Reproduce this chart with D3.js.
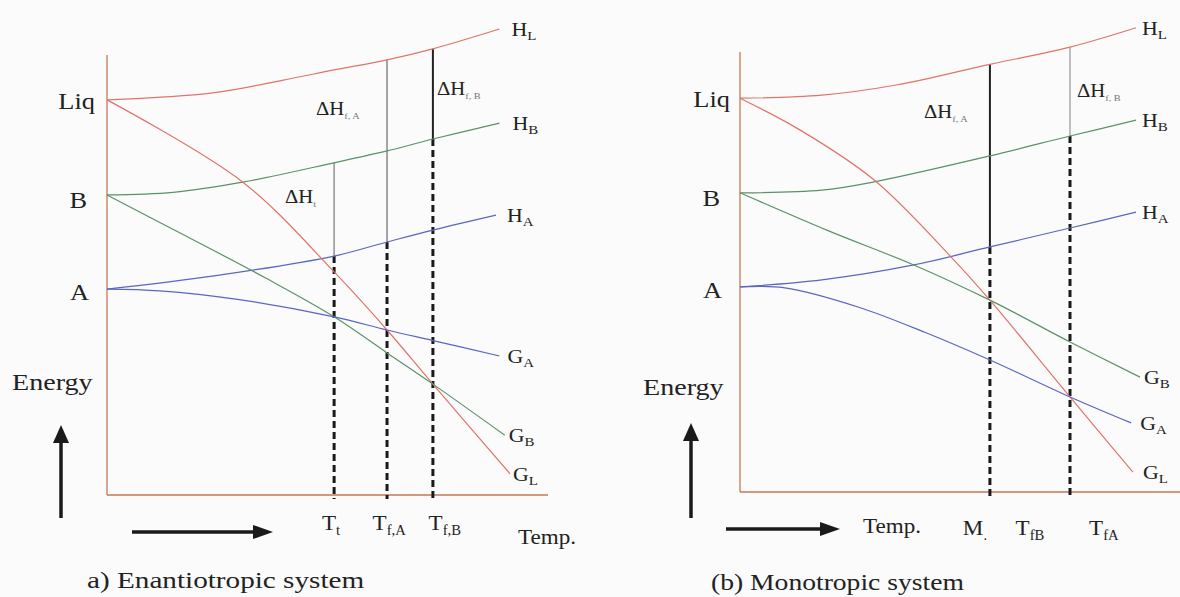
<!DOCTYPE html>
<html>
<head>
<meta charset="utf-8">
<script src="https://cdn.jsdelivr.net/npm/d3@7"></script>
<style>
  body { margin: 0; background: #fbfbfb; }
  svg { display: block; }
</style>
</head>
<body>
<svg id="chart" width="1180" height="597" font-family="'Liberation Serif', 'DejaVu Serif', serif"></svg>
<script>
// --- --- --- Data (temperature / energy, both on a 0-100 scale) --- --- ---
const levelNames = ["Liq", "B", "A"];
const curveNames = ["HL", "HB", "HA", "GL", "GB", "GA"];

// a) enantiotropic system
const aLevels = [89.8, 68.2, 46.8];
const aHL = [[0, 89.8], [24, 91.4], [40, 94.3], [51.5, 96.6], [63.5, 98.9], [73.9, 101.4], [89, 105.9]];
const aHB = [[0, 68.2], [15, 68.8], [30.8, 71.1], [51.5, 75.5], [63.5, 78.2], [73.9, 80.9], [89, 84.5]];
const aHA = [[0, 46.8], [24.3, 49.8], [51.5, 54.3], [63.5, 57.5], [73.9, 60.2], [88.2, 63.6]];
const aGL = [[0, 89.8], [30.8, 71.1], [51.5, 50.7], [63.5, 37.5], [73.9, 25.2], [91.4, 4.8]];
const aGB = [[0, 68.2], [18, 58.8], [36, 49.3], [51.5, 40.5], [63.5, 32.3], [73.9, 25.2], [90.2, 13.6]];
const aGA = [[0, 46.8], [12, 46.4], [30, 44.4], [51.5, 40.5], [63.5, 37.5], [73.9, 35.1], [89, 31.6]];
const aMarkT = [51.5, 63.5, 73.9];
const aTickLabels = [["T", "t"], ["T", "f,A"], ["T", "f,B"]];
const aTickAt = [50.8, 64, 76.6];
const aDeltaLabels = [["\u0394H", "t"], ["\u0394H", "f, A"], ["\u0394H", "f, B"]];

// b) monotropic system
const bLevels = [89.5, 68, 46.6];
const bHL = [[0, 89.5], [18.6, 90.2], [35.5, 92.5], [56.8, 97.2], [75, 101.1], [90, 105.5]];
const bHB = [[0, 68], [18.6, 68.6], [30.5, 70.5], [56.8, 76.4], [75, 80.9], [90, 84.5]];
const bHA = [[0, 46.6], [18.6, 48.2], [39.5, 51.6], [56.8, 55.7], [75, 60], [90, 63.6]];
const bGL = [[0, 89.5], [13.6, 82.3], [30.5, 70.9], [48, 53.4], [56.8, 43.6], [75, 21.6], [89.3, 4.5]];
const bGB = [[0, 68], [20, 59.4], [39.5, 51.6], [56.8, 43.6], [75, 34.1], [90.9, 26.1]];
const bGA = [[0, 46.6], [10.2, 46.4], [27, 42], [42, 36.3], [56.8, 30], [75, 21.6], [88.9, 15.7]];
const bMarkT = [56.8, 75];
const bTickLabels = [["M", "."], ["T", "fB"], ["T", "fA"]];
const bTickAt = [53.4, 65.9, 82.7];
const bDeltaLabels = [["\u0394H", "f, A"], ["\u0394H", "f, B"]];

const colors = { HL: "#e0746b", GL: "#e0746b", HB: "#5b9169", GB: "#5b9169", HA: "#5a66c2", GA: "#5a66c2", axis: "#c27a55" };
const labelText = { HL: ["H", "L"], HB: ["H", "B"], HA: ["H", "A"], GL: ["G", "L"], GB: ["G", "B"], GA: ["G", "A"] };

const svg = d3.select("#chart");
const FONT = "'Liberation Serif', 'DejaVu Serif', serif";

// text helper: the original lettering is a horizontally stretched Times face
function label(g, x, y, main, sub, size, subSize, opts = {}) {
  const t = g.append("text")
    .attr("transform", `translate(${x},${y}) scale(${opts.sx || 1.15},1)`)
    .attr("font-family", FONT)
    .attr("font-size", size)
    .attr("fill", "#222")
    .attr("text-anchor", opts.anchor || "start");
  t.append("tspan").text(main);
  if (sub) t.append("tspan")
    .attr("font-size", subSize)
    .attr("dy", opts.subDy != null ? opts.subDy : size * 0.22)
    .attr("fill", opts.subFill || "#222")
    .text(sub);
  return t;
}

function arrow(g, x1, y1, x2, y2, head, half, w) {
  const dx = x2 - x1, dy = y2 - y1, len = Math.hypot(dx, dy);
  const ux = dx / len, uy = dy / len;
  const bx = x2 - ux * head, by = y2 - uy * head;
  g.append("line").attr("x1", x1).attr("y1", y1).attr("x2", bx).attr("y2", by)
    .attr("stroke", "#1a1a1a").attr("stroke-width", w);
  g.append("path")
    .attr("d", `M${x2},${y2}L${bx - uy * half},${by + ux * half}L${bx + uy * half},${by - ux * half}Z`)
    .attr("fill", "#1a1a1a");
}

// marks sit on sampled temperatures, so a linear lookup lands on the curve
function valueAt(pts, t) {
  const i = d3.bisector(d => d[0]).left(pts, t);
  if (i <= 0) return pts[0][1];
  if (i >= pts.length) return pts[pts.length - 1][1];
  const [x0, y0] = pts[i - 1], [x1, y1] = pts[i];
  return y0 + (y1 - y0) * (t - x0) / (x1 - x0);
}

function drawPanel(p) {
  const g = svg.append("g");
  const x = d3.scaleLinear().domain([0, 100]).range(p.xRange);
  const y = d3.scaleLinear().domain([0, 100]).range(p.yRange);
  const line = d3.line().x(d => x(d[0])).y(d => y(d[1])).curve(d3.curveCatmullRom.alpha(0.5));

  // axes
  g.append("line").attr("x1", x(0)).attr("x2", x(0)).attr("y1", p.axisTop).attr("y2", y(0))
    .attr("stroke", colors.axis).attr("stroke-width", 1.3);
  g.append("line").attr("x1", x(0)).attr("x2", x(100)).attr("y1", y(0)).attr("y2", y(0))
    .attr("stroke", colors.axis).attr("stroke-width", 1.3);

  // marker lines: solid part between enthalpy curves, dashed part down to the axis
  p.marks.forEach(m => {
    const top = valueAt(p.curves[m.from], m.t), mid = valueAt(p.curves[m.to], m.t);
    g.append("line").attr("x1", x(m.t)).attr("x2", x(m.t)).attr("y1", y(top)).attr("y2", y(mid))
      .attr("stroke", m.solid).attr("stroke-width", m.solidW);
    g.append("line").attr("x1", x(m.t)).attr("x2", x(m.t)).attr("y1", y(mid)).attr("y2", y(0) + 4)
      .attr("stroke", "#1a1a1a").attr("stroke-width", 3).attr("stroke-dasharray", "7,4");
  });

  // curves
  curveNames.forEach(k => {
    const pts = p.curves[k];
    g.append("path").attr("d", line(pts)).attr("fill", "none")
      .attr("stroke", colors[k]).attr("stroke-width", 1.2);
    const last = pts[pts.length - 1];
    const lt = labelText[k];
    label(g, x(last[0]) + p.labelGap[k], y(last[1]) + 7, lt[0], lt[1], 19, 13, { subDy: 4 });
  });

  // level labels
  levelNames.forEach((n, i) => {
    label(g, x(0) - p.levelGap[i], y(p.levels[i]) + p.levelDy[i], n, null, 24, 0, { anchor: "end", sx: 1.1 });
  });

  // delta H labels
  p.deltas.forEach((d, i) => {
    const pos = p.deltaPos[i];
    label(g, pos[0], pos[1], d[0], d[1], 18, 9, { subDy: 4, subFill: "#777" });
  });

  // temperature labels under the axis
  p.ticks.forEach((tl, i) => {
    label(g, x(p.tickAt[i]), p.tickY, tl[0], tl[1], 22, 14, { anchor: "middle", subDy: 5, sx: 1.05 });
  });
  label(g, p.tempPos[0], p.tempPos[1], "Temp.", null, 22, 0, { sx: 1.05 });
  label(g, p.energyPos[0], p.energyPos[1], "Energy", null, 24, 0, { sx: 1.17 });
  label(g, p.captionPos[0], p.captionPos[1], p.caption, null, 23, 0, { sx: p.captionSx });

  arrow(g, p.vArrow[0], p.vArrow[1], p.vArrow[0], p.vArrow[2], 18, 8, 3.5);
  arrow(g, p.hArrow[0], p.hArrow[2], p.hArrow[1], p.hArrow[2], 20, 7, 3.4);
}

drawPanel({
  xRange: [107, 548], yRange: [495, 55], axisTop: 55,
  levels: aLevels, levelGap: [12, 20, 18], levelDy: [9, 13, 11],
  curves: { HL: aHL, HB: aHB, HA: aHA, GL: aGL, GB: aGB, GA: aGA },
  labelGap: { HL: 12, HB: 13, HA: 11, GL: 3, GB: 4, GA: 8 },
  marks: [
    { t: aMarkT[0], from: "HB", to: "HA", solid: "#999", solidW: 1.6 },
    { t: aMarkT[1], from: "HL", to: "HA", solid: "#888", solidW: 1.5 },
    { t: aMarkT[2], from: "HL", to: "HB", solid: "#222", solidW: 2 }
  ],
  deltas: aDeltaLabels, deltaPos: [[285, 203], [316, 115], [437, 95]],
  ticks: aTickLabels, tickAt: aTickAt, tickY: 530,
  tempPos: [518, 544], energyPos: [12, 390],
  caption: "a)  Enantiotropic system", captionPos: [87, 588], captionSx: 1.27,
  vArrow: [61, 518, 425], hArrow: [132, 273, 532]
});

drawPanel({
  xRange: [740, 1180], yRange: [492, 52], axisTop: 52,
  levels: bLevels, levelGap: [10, 20, 18], levelDy: [9, 13, 11],
  curves: { HL: bHL, HB: bHB, HA: bHA, GL: bGL, GB: bGB, GA: bGA },
  labelGap: { HL: 6, HB: 6, HA: 6, GL: 10, GB: 4, GA: 9 },
  marks: [
    { t: bMarkT[0], from: "HL", to: "HA", solid: "#222", solidW: 2 },
    { t: bMarkT[1], from: "HL", to: "HB", solid: "#aaa", solidW: 1.5 }
  ],
  deltas: bDeltaLabels, deltaPos: [[924, 118], [1077, 97]],
  ticks: bTickLabels, tickAt: bTickAt, tickY: 535,
  tempPos: [863, 533], energyPos: [643, 395],
  caption: "(b) Monotropic system", captionPos: [711, 590], captionSx: 1.2,
  vArrow: [691, 518, 423], hArrow: [726, 840, 529]
});
</script>
</body>
</html>
